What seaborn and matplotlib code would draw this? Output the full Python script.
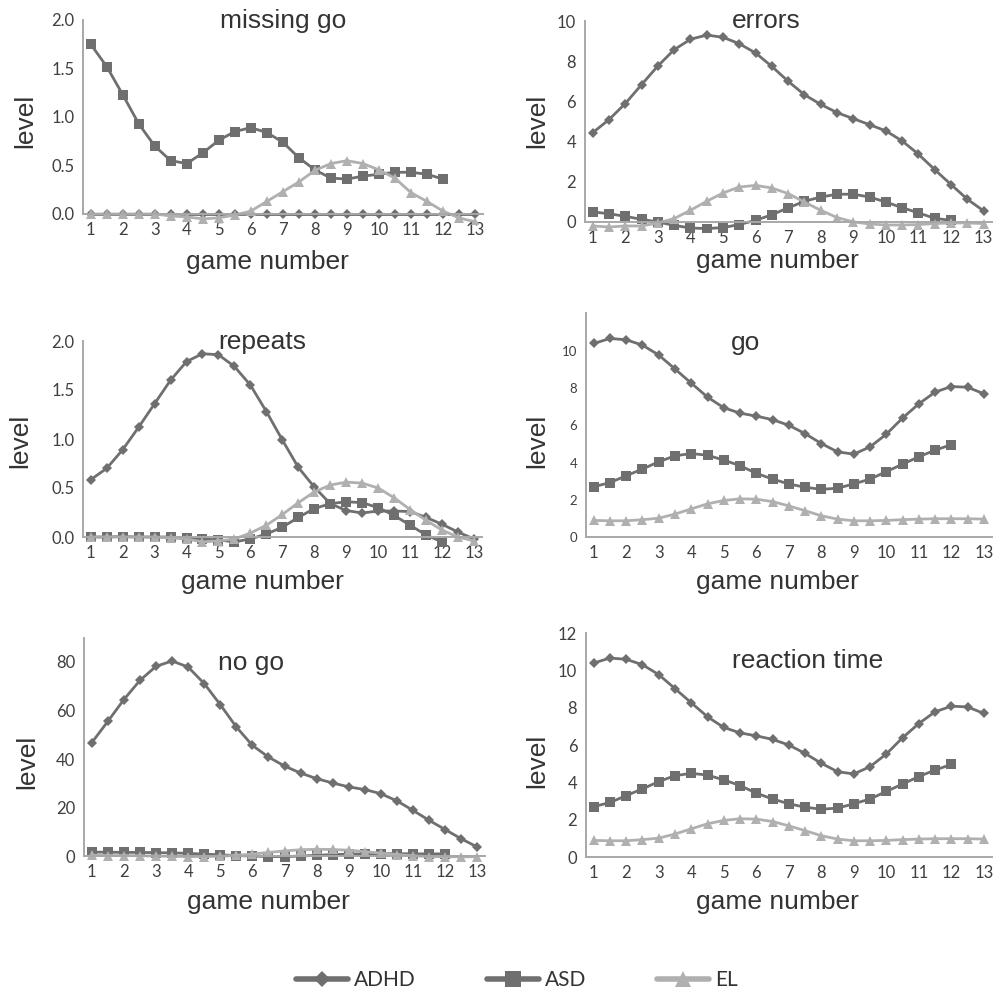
import matplotlib
matplotlib.use("Agg")
import matplotlib.pyplot as plt
import seaborn as sns
import pandas as pd
import numpy as np
from matplotlib.lines import Line2D

# ---------------- data ----------------
game = [1, 1.5, 2, 2.5, 3, 3.5, 4, 4.5, 5, 5.5, 6, 6.5, 7, 7.5, 8, 8.5, 9, 9.5,
        10, 10.5, 11, 11.5, 12, 12.5, 13]
groups = ["ADHD", "ASD", "EL"]
panel_titles = ["missing go", "errors", "repeats", "go", "no go", "reaction time"]

# missing go
mg_adhd = [0.0] * 25
mg_asd = [1.75, 1.52, 1.23, 0.93, 0.70, 0.55, 0.52, 0.63, 0.76, 0.85, 0.89, 0.84, 0.74,
          0.58, 0.455, 0.37, 0.36, 0.39, 0.41, 0.43, 0.43, 0.41, 0.36]
mg_el = [0.0, 0.0, 0.0, 0.0, 0.0, -0.02, -0.03, -0.05, -0.04, -0.01, 0.03, 0.13, 0.23,
         0.33, 0.45, 0.52, 0.55, 0.52, 0.455, 0.37, 0.22, 0.13, 0.03, -0.04, -0.08]

# errors
er_adhd = [4.44, 5.09, 5.89, 6.83, 7.76, 8.57, 9.09, 9.30, 9.19, 8.87, 8.41, 7.74, 7.0,
           6.33, 5.85, 5.44, 5.14, 4.84, 4.53, 4.03, 3.37, 2.60, 1.86, 1.13, 0.55]
er_asd = [0.50, 0.41, 0.28, 0.13, 0.0, -0.17, -0.30, -0.33, -0.28, -0.13, 0.08, 0.36,
          0.70, 1.03, 1.24, 1.38, 1.38, 1.24, 0.99, 0.71, 0.45, 0.18, 0.08]
er_el = [-0.20, -0.25, -0.20, -0.20, -0.05, 0.17, 0.58, 1.03, 1.44, 1.74, 1.82, 1.69,
         1.41, 0.99, 0.58, 0.22, 0.0, -0.10, -0.15, -0.15, -0.13, -0.08, -0.05, -0.05, -0.08]

# repeats
rp_adhd = [0.585, 0.70, 0.89, 1.12, 1.36, 1.60, 1.79, 1.87, 1.86, 1.74, 1.55, 1.28, 0.99,
           0.71, 0.51, 0.34, 0.27, 0.245, 0.265, 0.265, 0.26, 0.20, 0.13, 0.05, -0.02]
rp_asd = [0.0, 0.0, 0.005, 0.0, 0.0, 0.0, -0.01, -0.02, -0.03, -0.05, -0.02, 0.03, 0.10,
          0.20, 0.29, 0.34, 0.36, 0.35, 0.30, 0.22, 0.12, 0.02, -0.05]
rp_el = [0.0, 0.0, 0.0, 0.0, 0.0, -0.01, -0.02, -0.05, -0.04, -0.02, 0.04, 0.12, 0.23,
         0.35, 0.46, 0.53, 0.56, 0.55, 0.50, 0.40, 0.28, 0.17, 0.07, 0.0, -0.04]

# go
go_adhd = [10.39, 10.66, 10.59, 10.30, 9.77, 9.02, 8.26, 7.51, 6.94, 6.65, 6.49, 6.30,
           6.0, 5.55, 5.02, 4.57, 4.45, 4.84, 5.52, 6.39, 7.15, 7.78, 8.08, 8.04, 7.69]
go_asd = [2.70, 2.92, 3.29, 3.65, 4.04, 4.36, 4.48, 4.39, 4.13, 3.83, 3.42, 3.11, 2.85,
          2.67, 2.56, 2.62, 2.85, 3.11, 3.51, 3.91, 4.31, 4.66, 4.96]
go_el = [0.89, 0.87, 0.87, 0.93, 1.01, 1.23, 1.51, 1.78, 1.96, 2.05, 2.03, 1.90, 1.67,
         1.41, 1.14, 0.96, 0.87, 0.87, 0.89, 0.93, 0.96, 0.98, 0.98, 0.98, 0.96]

# no go
ng_adhd = [46.7, 55.5, 64.5, 72.4, 78.2, 80.4, 77.9, 71.1, 62.4, 53.2, 45.6, 40.8, 37.1,
           34.2, 31.9, 30.1, 28.5, 27.4, 25.7, 22.7, 18.8, 14.7, 10.9, 7.1, 3.7]
ng_asd = [1.6, 1.6, 1.5, 1.5, 1.4, 1.3, 1.1, 0.8, 0.5, 0.2, 0.0, -0.2, -0.2, 0.0, 0.3,
          0.6, 0.8, 0.9, 1.0, 1.0, 0.9, 0.9, 0.9]
ng_el = [0.3, 0.2, 0.2, 0.1, 0.0, -0.1, -0.2, -0.2, -0.1, 0.3, 0.8, 1.5, 2.1, 2.6, 2.8,
         2.7, 2.4, 1.8, 1.2, 0.6, 0.1, -0.2, -0.3, -0.3, -0.3]

# reaction time
rt_adhd = [10.39, 10.66, 10.59, 10.30, 9.77, 9.02, 8.26, 7.51, 6.94, 6.65, 6.49, 6.30,
           6.0, 5.55, 5.02, 4.57, 4.45, 4.84, 5.52, 6.39, 7.15, 7.78, 8.08, 8.04, 7.69]
rt_asd = [2.70, 2.92, 3.29, 3.65, 4.04, 4.36, 4.48, 4.39, 4.13, 3.83, 3.42, 3.11, 2.85,
          2.67, 2.56, 2.62, 2.85, 3.11, 3.51, 3.91, 4.31, 4.66, 4.96]
rt_el = [0.89, 0.87, 0.87, 0.93, 1.01, 1.23, 1.51, 1.78, 1.96, 2.05, 2.03, 1.90, 1.67,
         1.41, 1.14, 0.96, 0.87, 0.87, 0.89, 0.93, 0.96, 0.98, 0.98, 0.98, 0.96]

series = [
    (mg_adhd, mg_asd, mg_el),
    (er_adhd, er_asd, er_el),
    (rp_adhd, rp_asd, rp_el),
    (go_adhd, go_asd, go_el),
    (ng_adhd, ng_asd, ng_el),
    (rt_adhd, rt_asd, rt_el),
]
yticks = [
    [0.0, 0.5, 1.0, 1.5, 2.0],
    [0, 2, 4, 6, 8, 10],
    [0.0, 0.5, 1.0, 1.5, 2.0],
    [0, 2, 4, 6, 8, 10],
    [0, 20, 40, 60, 80],
    [0, 2, 4, 6, 8, 10, 12],
]
ytick_fmt = ["{:.1f}", "{:d}", "{:.1f}", "{:d}", "{:d}", "{:d}"]
ylims = [(-0.1, 2.0), (-0.5, 10), (-0.1, 2.0), (0, 12), (-2, 90), (0, 12)]

# ---------------- styling ----------------
W, H = 994, 992
sns.set_theme(style="white")
plt.rcParams["font.family"] = ["Liberation Sans", "DejaVu Sans"]

dark = "#6f6f6f"
light = "#b0b0b0"
spine_col = "#a8a8a8"
text_col = "#333333"
tick_col = "#404040"
colors = {"ADHD": dark, "ASD": dark, "EL": light}
markers = {"ADHD": "D", "ASD": "s", "EL": "^"}
msizes = {"ADHD": 4.8, "ASD": 6.5, "EL": 6.5}

# pixel rects: left, top, right, bottom
rects = [
    (82.7, 20, 483, 223.7),
    (584.5, 21, 991.8, 232),
    (82.7, 341, 482, 546.8),
    (585.6, 313.5, 992, 537),
    (83.7, 637.7, 485.4, 860.9),
    (585.6, 633, 992, 857),
]
title_pos = [(283, 21), (766, 21), (262, 342), (746, 343), (251, 663), (808, 661)]
xlabel_pos = [(267, 262), (777, 261), (262, 582), (777, 582), (268, 902), (777, 902)]
ylabel_pos = [(25, 121), (537, 121), (20, 441), (537, 441), (27, 762), (537, 761)]

fig = plt.figure(figsize=(W / 100, H / 100), dpi=100)

def px2fig(x, y):
    return x / W, 1 - y / H

for i in range(6):
    l, t, r, b = rects[i]
    ax = fig.add_axes([l / W, 1 - b / H, (r - l) / W, (b - t) / H])
    for g, vals in zip(groups, series[i]):
        df = pd.DataFrame({"game": game[:len(vals)], "level": vals})
        sns.lineplot(data=df, x="game", y="level", ax=ax, color=colors[g],
                     marker=markers[g], markersize=msizes[g], markeredgewidth=0,
                     linewidth=2.0, label=g, legend=False)
    ax.set_xlim(0.75, 13.25)
    ax.set_ylim(*ylims[i])
    ax.set_xticks(list(range(1, 14)))
    ax.set_xticks([v for v in game if v != int(v)], minor=True)
    ax.set_xticklabels([str(k) for k in range(1, 14)])
    ax.set_yticks(yticks[i])
    fmt = ytick_fmt[i]
    ax.set_yticklabels([fmt.format(v) if fmt != "{:d}" else str(int(v)) for v in yticks[i]])
    for s in ["top", "right"]:
        ax.spines[s].set_visible(False)
    for s in ["left", "bottom"]:
        ax.spines[s].set_color(spine_col)
        ax.spines[s].set_linewidth(1.4)
    ax.spines["bottom"].set_position(("data", 0))
    ax.spines["left"].set_bounds(0, ylims[i][1])
    ax.tick_params(axis="x", which="both", direction="out", length=4, width=1,
                   color=spine_col, labelsize=12, labelcolor=tick_col, pad=2)
    ysize = 9.5 if i == 3 else 12
    ax.tick_params(axis="y", which="both", direction="out", length=3, width=1,
                   color=spine_col, labelsize=ysize, labelcolor=tick_col, pad=3)
    for lab in ax.get_xticklabels() + ax.get_yticklabels():
        lab.set_fontfamily(["Lato", "DejaVu Sans"])
    ax.set_xlabel("game number", fontsize=19, color=text_col)
    ax.set_ylabel("level", fontsize=19, color=text_col)
    ax.xaxis.label.set_va("center")
    ax.yaxis.label.set_va("center")
    ax.xaxis.set_label_coords(*px2fig(*xlabel_pos[i]), transform=fig.transFigure)
    ax.yaxis.set_label_coords(*px2fig(*ylabel_pos[i]), transform=fig.transFigure)
    ax.patch.set_alpha(0)
    fx, fy = px2fig(*title_pos[i])
    fig.text(fx, fy, panel_titles[i], ha="center", va="center", fontsize=19,
             color=text_col)

handles = [Line2D([], [], color=colors[g], marker=markers[g], linewidth=4,
                  markersize=msizes[g] * 1.8, markeredgewidth=0) for g in groups]
leg = fig.legend(handles, groups, loc="center", bbox_to_anchor=(0.52, 1 - 980 / H),
                 ncol=3, frameon=False, handlelength=2.5, handletextpad=0.3,
                 columnspacing=3.4, prop={"family": ["Lato", "DejaVu Sans"], "size": 15})
for t in leg.get_texts():
    t.set_color(text_col)

fig.savefig("out.png", dpi=100)
